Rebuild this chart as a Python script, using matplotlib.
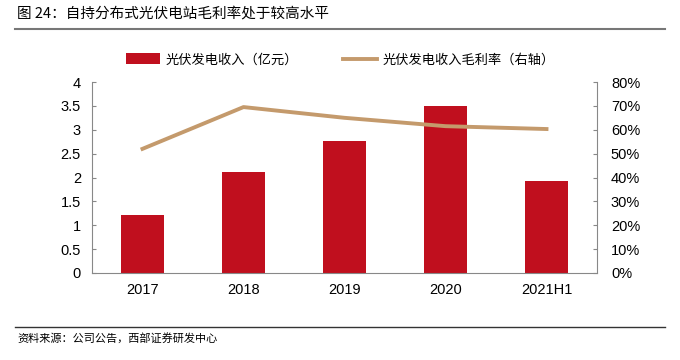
import matplotlib
matplotlib.use("Agg")
import matplotlib.pyplot as plt
from matplotlib.lines import Line2D
from matplotlib.patches import Patch

categories = ["2017", "2018", "2019", "2020", "2021H1"]
revenue = [1.21, 2.12, 2.76, 3.50, 1.93]
margin = [52.0, 69.5, 65.0, 61.5, 60.3]
left_ticks = [0, 0.5, 1, 1.5, 2, 2.5, 3, 3.5, 4]
left_labels = ["0", "0.5", "1", "1.5", "2", "2.5", "3", "3.5", "4"]
right_ticks = [0, 10, 20, 30, 40, 50, 60, 70, 80]
right_labels = ["0%", "10%", "20%", "30%", "40%", "50%", "60%", "70%", "80%"]

title = "图 24：自持分布式光伏电站毛利率处于较高水平"
source = "资料来源：公司公告，西部证券研发中心"
bar_label = "光伏发电收入（亿元）"
line_label = "光伏发电收入毛利率（右轴）"

cjk = ["Noto Sans CJK SC", "DejaVu Sans"]
num_font = ["Liberation Sans", "DejaVu Sans"]

bar_color = "#C00F1E"
line_color = "#C49A6C"
spine_color = "#888888"

fig = plt.figure(figsize=(6.8, 3.6), dpi=100)
ax = fig.add_axes([92/680, 1-273/360, (597-92)/680, (273-82)/360])
ax2 = ax.twinx()

x = list(range(len(categories)))
ax.bar(x, revenue, width=0.43, color=bar_color, zorder=2)
ax2.plot(x, margin, color=line_color, lw=2.8, zorder=3)

ax.set_xlim(-0.5, len(categories)-0.5)
ax.set_ylim(0, 4)
ax2.set_ylim(0, 80)
ax.set_yticks(left_ticks)
ax.set_yticklabels(left_labels, fontfamily=num_font, fontsize=10.5)
ax2.set_yticks(right_ticks)
ax2.set_yticklabels(right_labels, fontfamily=num_font, fontsize=10.5)
ax.set_xticks(x)
ax.set_xticklabels(categories, fontfamily=num_font, fontsize=10.5)

for a in (ax, ax2):
    a.spines["top"].set_visible(False)
    for s in ("left", "right", "bottom"):
        a.spines[s].set_color(spine_color)
        a.spines[s].set_linewidth(0.8)
ax.spines["right"].set_visible(False)
ax2.spines["left"].set_visible(False)
ax2.spines["bottom"].set_visible(False)
ax.tick_params(axis="y", direction="in", length=3, color=spine_color, pad=8)
ax2.tick_params(axis="y", direction="in", length=3, color=spine_color, pad=10)
ax.tick_params(axis="x", length=0, pad=7)

handles = [Patch(facecolor=bar_color, label=bar_label),
           Line2D([0], [0], color=line_color, lw=2.8, label=line_label)]
leg = fig.legend(handles=handles, loc="center", bbox_to_anchor=(0.5, 1-60/360),
                 ncol=2, frameon=False, prop={"family": cjk, "size": 9.5},
                 handlelength=2.6, handleheight=0.9, columnspacing=3.4, handletextpad=0.4)

fig.text(17/680, 1-14/360, title, fontfamily=cjk, fontsize=10.5, va="center", ha="left")
fig.add_artist(Line2D([15/680, 665/680], [1-29/360, 1-29/360], color="#777777", lw=1.5))
fig.add_artist(Line2D([15/680, 665/680], [1-327/360, 1-327/360], color="#333333", lw=1.0))
fig.text(17/680, 1-338/360, source, fontfamily=cjk, fontsize=8, va="center", ha="left")

fig.savefig("out.png", dpi=100)
